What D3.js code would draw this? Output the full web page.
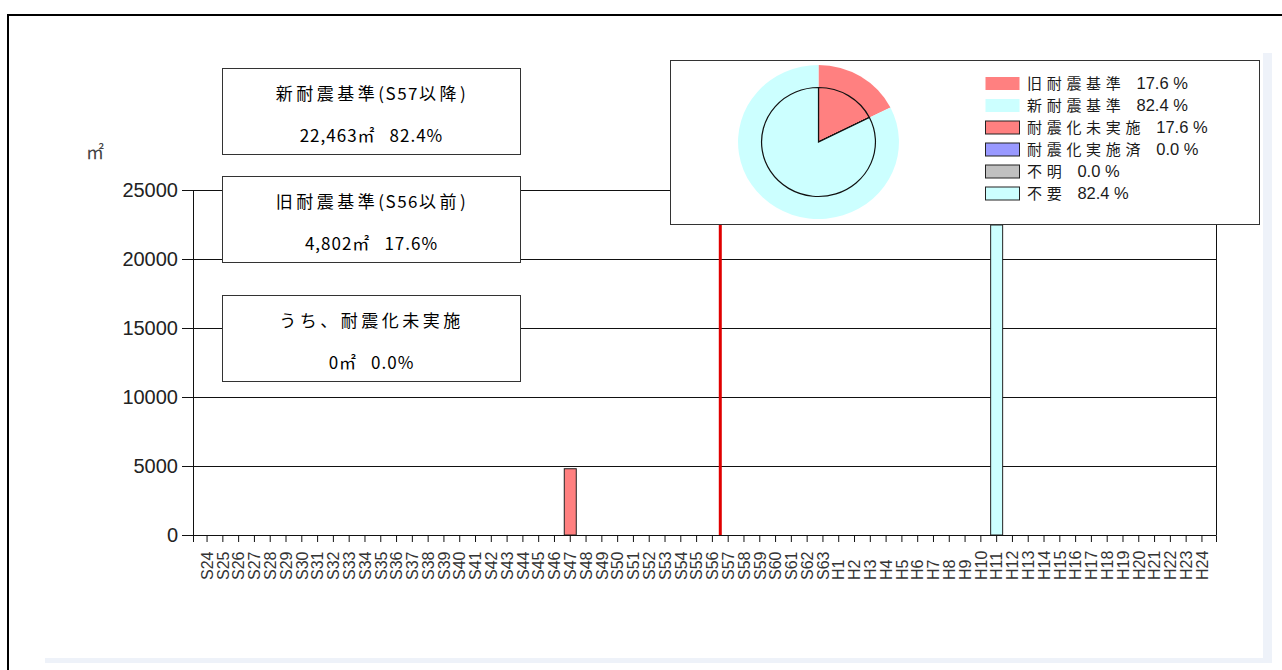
<!DOCTYPE html>
<html>
<head>
<meta charset="utf-8">
<script src="https://cdn.jsdelivr.net/npm/d3@7"></script>
<style>
  html, body { margin: 0; padding: 0; background: #fff; }
  svg { display: block; }
</style>
</head>
<body>
<svg id="chart" width="1282" height="670"></svg>
<script>
// construction year categories (Showa / Heisei)
const showaYears = ["S24","S25","S26","S27","S28","S29","S30","S31","S32","S33","S34","S35","S36","S37","S38","S39","S40","S41","S42","S43","S44","S45","S46","S47","S48","S49","S50","S51","S52","S53","S54","S55","S56","S57","S58","S59","S60","S61","S62","S63"];
const heiseiYears = ["H1","H2","H3","H4","H5","H6","H7","H8","H9","H10","H11","H12","H13","H14","H15","H16","H17","H18","H19","H20","H21","H22","H23","H24"];

// floor area (m2) per year, only non-zero years listed
const oldStdYears = ["S47"];
const oldStdArea = [4802];
const newStdYears = ["H11"];
const newStdArea = [22463];
const boundaryYear = "S57";

const yTicks = [0, 5000, 10000, 15000, 20000, 25000];

// summary boxes
const boxTitles = ["新耐震基準(S57以降)", "旧耐震基準(S56以前)", "うち、耐震化未実施"];
const boxAreas = ["22,463", "4,802", "0"];
const boxShares = ["82.4%", "17.6%", "0.0%"];

// pie: outer ring = old/new standard, inner pie = retrofit status
const ringLabels = ["旧耐震基準", "新耐震基準"];
const ringShares = [17.6, 82.4];
const pieLabels = ["耐震化未実施", "耐震化実施済", "不明", "不要"];
const pieShares = [17.6, 0.0, 0.0, 82.4];

const RED = "#ff8080", CYAN = "#ccffff", BLUE = "#9999ff", GRAY = "#c0c0c0";
const ringColors = [RED, CYAN];
const pieColors = [RED, BLUE, GRAY, CYAN];

const JP = "'Noto Sans CJK JP', 'Noto Sans', sans-serif";
const LAT = "'Liberation Sans', Arial, sans-serif";

const svg = d3.select("#chart");

// light panel shadow + outer frame
svg.append("rect").attr("x", 1263).attr("y", 53).attr("width", 9).attr("height", 610).attr("fill", "#eef2f9");
svg.append("rect").attr("x", 45).attr("y", 658).attr("width", 1227).attr("height", 5).attr("fill", "#eef2f9");
svg.append("rect").attr("x", 8).attr("y", 15).attr("width", 1300).attr("height", 700)
  .attr("fill", "none").attr("stroke", "#000").attr("stroke-width", 2);

const plot = { left: 193, right: 1216, top: 190, bottom: 535 };
const categories = showaYears.concat(heiseiYears);

const x = d3.scaleBand().domain(categories).range([plot.left, plot.right]).paddingInner(0).paddingOuter(0.39);
const y = d3.scaleLinear().domain([0, 25000]).range([plot.bottom, plot.top]);

// gridlines
svg.append("g").selectAll("line").data(yTicks).join("line")
  .attr("x1", plot.left).attr("x2", plot.right)
  .attr("y1", d => y(d)).attr("y2", d => y(d))
  .attr("stroke", "#111").attr("stroke-width", 1).attr("shape-rendering", "crispEdges");

// y axis
const yAxis = svg.append("g").attr("transform", `translate(${plot.left},0)`)
  .call(d3.axisLeft(y).tickValues(yTicks).tickSize(11).tickSizeOuter(0).tickFormat(d3.format("d")));
yAxis.select(".domain").attr("stroke", "#111");
yAxis.selectAll(".tick line").attr("stroke", "#111");
yAxis.selectAll("text").attr("font-family", LAT).attr("font-size", 20).attr("fill", "#222").attr("x", -15);

// right frame
svg.append("line").attr("x1", plot.right).attr("x2", plot.right).attr("y1", plot.top).attr("y2", plot.bottom)
  .attr("stroke", "#111").attr("shape-rendering", "crispEdges");

// unit label
svg.append("text").attr("x", 86).attr("y", 159).attr("font-family", JP).attr("font-size", 18)
  .attr("fill", "#444").text("㎡");

// bars
const bw = 12;
function drawBars(years, vals, fill) {
  svg.append("g").selectAll("rect").data(years.map((c, i) => ({ c, v: vals[i] }))).join("rect")
    .attr("x", d => x(d.c) + (x.bandwidth() - bw) / 2)
    .attr("width", bw)
    .attr("y", d => y(d.v))
    .attr("height", d => y(0) - y(d.v))
    .attr("fill", fill).attr("stroke", "#222").attr("stroke-width", 1);
}
drawBars(oldStdYears, oldStdArea, RED);
drawBars(newStdYears, newStdArea, CYAN);

// boundary line between S56 and S57
svg.append("line")
  .attr("x1", x(boundaryYear)).attr("x2", x(boundaryYear))
  .attr("y1", y(0)).attr("y2", y(25000))
  .attr("stroke", "#e00000").attr("stroke-width", 3);

// x axis
const xAxis = svg.append("g").attr("transform", `translate(0,${plot.bottom})`)
  .call(d3.axisBottom(x).tickSize(7).tickSizeOuter(7));
xAxis.select(".domain").attr("stroke", "#111");
xAxis.selectAll(".tick line").attr("stroke", "#111");
xAxis.selectAll("text")
  .attr("y", 0).attr("x", 0).attr("dy", "0.36em")
  .attr("transform", "translate(0,45) rotate(-90)")
  .attr("text-anchor", "start")
  .attr("font-family", LAT).attr("font-size", 16).attr("fill", "#333");

// split a label into runs so wide (CJK) and narrow (ASCII) parts get different spacing
function runs(s) {
  return s.match(/[\x20-\x7e]+|[^\x20-\x7e]+/g) || [];
}

// summary boxes
const boxTop = [68, 176, 295];
boxTitles.forEach((t, i) => {
  const g = svg.append("g").attr("transform", `translate(222.5,${boxTop[i] + 0.5})`);
  g.append("rect").attr("width", 298).attr("height", 86).attr("fill", "#fff").attr("stroke", "#333");
  const l1 = g.append("text").attr("x", 149).attr("y", 26).attr("dy", "0.35em").attr("text-anchor", "middle")
    .attr("font-family", JP).attr("font-size", 17).attr("fill", "#000");
  runs(t).forEach(r => {
    const ascii = /^[\x20-\x7e]+$/.test(r);
    l1.append("tspan").attr("letter-spacing", ascii ? 1.5 : 3.5).text(r);
  });
  const l2 = g.append("text").attr("x", 149).attr("y", 68).attr("dy", "0.35em").attr("text-anchor", "middle")
    .attr("font-family", JP).attr("font-size", 17).attr("letter-spacing", 1).attr("fill", "#000");
  l2.append("tspan").text(boxAreas[i] + "㎡");
  l2.append("tspan").attr("dx", 14).text(boxShares[i]);
});

// pie panel
const lg = svg.append("g");
lg.append("rect").attr("x", 670.5).attr("y", 60.5).attr("width", 589).attr("height", 164)
  .attr("fill", "#fff").attr("stroke", "#333");

const pieG = lg.append("g").attr("transform", "translate(818.5,142) scale(1.045,1)");
const pie = d3.pie().sort(null).value(d => d);
pieG.selectAll("path.ring").data(pie(ringShares)).join("path").attr("class", "ring")
  .attr("d", d3.arc().innerRadius(0).outerRadius(77))
  .attr("fill", (d, i) => ringColors[i]);
pieG.selectAll("path.inner").data(pie(pieShares)).join("path").attr("class", "inner")
  .attr("d", d3.arc().innerRadius(0).outerRadius(54.5))
  .attr("fill", (d, i) => pieColors[i])
  .attr("stroke", "#111").attr("stroke-width", 1.2).attr("vector-effect", "non-scaling-stroke");

// legend
const legendRows = ringLabels.map((l, i) => ({ label: l, pct: ringShares[i], color: ringColors[i], border: false }))
  .concat(pieLabels.map((l, i) => ({ label: l, pct: pieShares[i], color: pieColors[i], border: true })));
legendRows.forEach((r, i) => {
  const cy = 83.5 + i * 22;
  lg.append("rect").attr("x", 985.5).attr("y", cy - 6.5).attr("width", 34).attr("height", 13)
    .attr("fill", r.color).attr("stroke", r.border ? "#222" : "none");
  const t = lg.append("text").attr("x", 1027).attr("y", cy).attr("dy", "0.36em").attr("fill", "#1a1a1a");
  t.append("tspan").attr("font-family", JP).attr("font-size", 15).attr("letter-spacing", 4.7).text(r.label);
  t.append("tspan").attr("dx", 11).attr("font-family", LAT).attr("font-size", 16.5).text(r.pct.toFixed(1) + " %");
});
</script>
</body>
</html>
